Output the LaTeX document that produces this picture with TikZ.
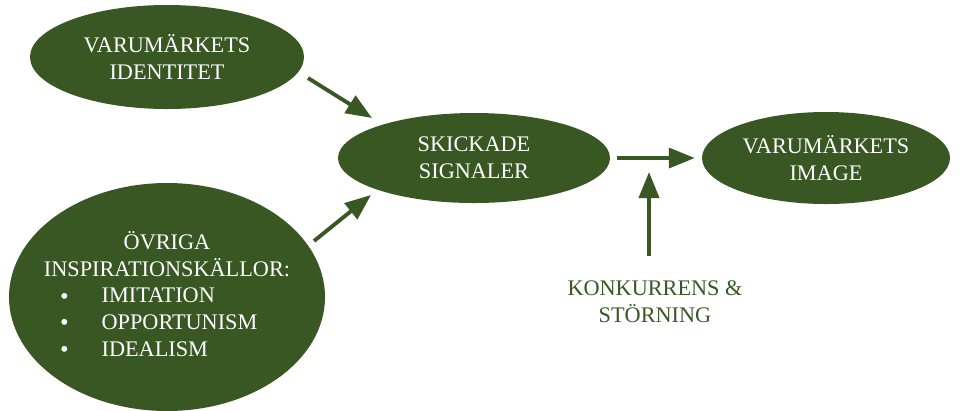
\documentclass[tikz,border=0pt]{standalone}
\usepackage{fontspec}
\setmainfont{Liberation Serif}
\usetikzlibrary{arrows.meta, positioning, shapes.geometric}
\definecolor{mossgreen}{HTML}{385723}
\newcommand{\bigbullet}{\raisebox{-1pt}{\fontsize{21}{23}\selectfont\textbullet}\hspace{28pt}}

\begin{document}
\begin{tikzpicture}[x=0.03cm, y=-0.03cm,
    blob/.style={ellipse, fill=mossgreen, text=white, align=center, inner sep=0pt, font=\fontsize{19}{23}\selectfont},
    blobtext/.style={text=white, inner sep=0pt, font=\fontsize{19}{23}\selectfont},
    arr/.style={line width=3.3pt, draw=mossgreen, -{Triangle[length=0.78cm, width=0.6cm]}}]
    \useasboundingbox (0,0) rectangle (962,410);

    % ellipser
    \node[blob, minimum width=8.22cm, minimum height=3.12cm] (ident) at (167,57) {VARUMÄRKETS\\IDENTITET};
    \node[blob, minimum width=9.48cm, minimum height=6.84cm] (ovriga) at (167,297) {};
    \node[blob, minimum width=8.16cm, minimum height=2.7cm] (signaler) at (474,158) {SKICKADE\\SIGNALER};
    \node[blob, minimum width=7.44cm, minimum height=2.76cm] (image) at (826,158) {VARUMÄRKETS\\IMAGE};

    % text i nedre ellipsen
    \node[blobtext, align=center] (ovrigahead) at (167,254) {ÖVRIGA\\INSPIRATIONSKÄLLOR:};
    \node[blobtext, align=left, anchor=west] (ovrigalist) at (60,323) {\bigbullet IMITATION\\
        \bigbullet OPPORTUNISM\\
        \bigbullet IDEALISM};

    % konkurrens
    \node[text=mossgreen, align=center, inner sep=0pt, font=\fontsize{19}{23}\selectfont] (konk) at (655,302) {KONKURRENS \&\\STÖRNING};

    % pilar
    \coordinate (identout) at (308,78);
    \coordinate (sigin1) at (372,118);
    \coordinate (ovrigaout) at (314,241);
    \coordinate (sigin2) at (371,195);
    \coordinate (storin) at (649,172);
    \draw[arr] (identout) -- (sigin1);
    \draw[arr] (ovrigaout) -- (sigin2);
    \draw[arr, shorten <=0.21cm, shorten >=0.21cm] (signaler.east) -- (image.west);
    \draw[arr, shorten <=0.75cm] (konk.north -| storin) -- (storin);
\end{tikzpicture}
\end{document}
